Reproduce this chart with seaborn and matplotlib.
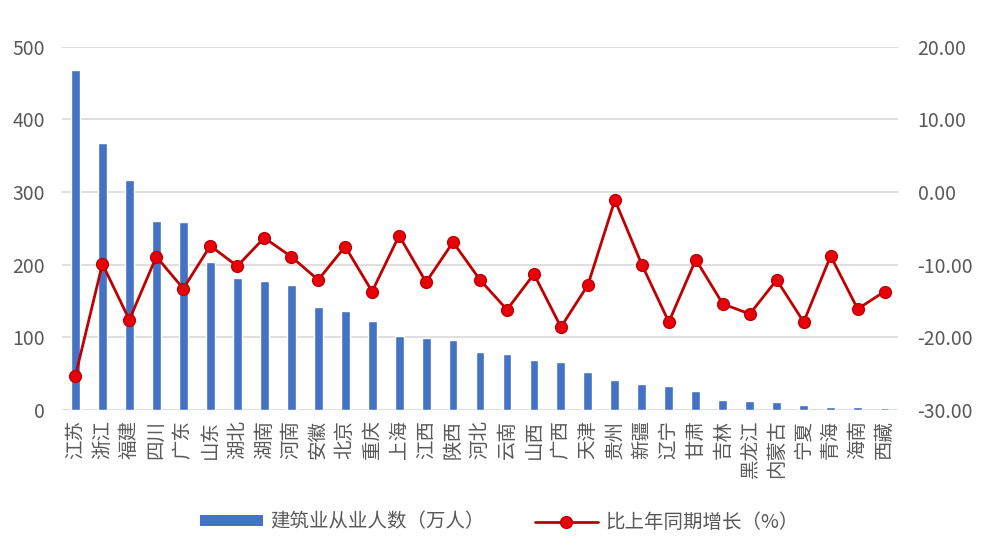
import matplotlib
matplotlib.use("Agg")
import matplotlib.pyplot as plt
import seaborn as sns
from matplotlib.patches import Patch
from matplotlib.lines import Line2D
from matplotlib.ticker import FormatStrFormatter

# Data
provinces = ["江苏", "浙江", "福建", "四川", "广东", "山东", "湖北", "湖南", "河南", "安徽",
             "北京", "重庆", "上海", "江西", "陕西", "河北", "云南", "山西", "广西", "天津",
             "贵州", "新疆", "辽宁", "甘肃", "吉林", "黑龙江", "内蒙古", "宁夏", "青海", "海南", "西藏"]
workers = [468, 368, 317, 260, 259, 204, 182, 178, 172, 142,
           136, 123, 102, 99, 96, 80, 77, 68, 66, 52,
           41, 36, 33, 26, 14, 12, 11, 7, 4, 4, 3]
growth = [-25.3, -9.9, -17.6, -8.9, -13.3, -7.4, -10.2, -6.3, -8.9, -12.1,
          -7.5, -13.7, -6.0, -12.4, -6.9, -12.1, -16.2, -11.3, -18.6, -12.8,
          -1.1, -10.0, -17.9, -9.3, -15.4, -16.8, -12.1, -17.9, -8.8, -16.1, -13.7]

bar_label = "建筑业从业人数（万人）"
line_label = "比上年同期增长（%）"

bar_color = "#4472C4"
line_color = "#C00000"
marker_color = "#E8000B"
text_color = "#595959"

sns.set_theme(style="white")
plt.rcParams["font.family"] = ["Noto Sans CJK SC", "DejaVu Sans"]

fig = plt.figure(figsize=(9.99, 5.45), dpi=100)
ax = fig.add_axes([0.062, 0.248, 0.837, 0.666])

sns.barplot(x=provinces, y=workers, color=bar_color, width=0.33, saturation=1, ax=ax, zorder=2)
ax.set_ylim(0, 500)
ax.set_yticks(range(0, 501, 100))
ax.yaxis.grid(True, color="#D9D9D9", linewidth=1.2, zorder=0)
ax.set_axisbelow(True)

ax2 = ax.twinx()
sns.pointplot(x=provinces, y=growth, color=line_color, markers="o", ax=ax2,
              linewidth=2, markersize=8.5, markerfacecolor=marker_color,
              markeredgecolor=line_color, markeredgewidth=1)
ax2.set_ylim(-30, 20)
ax2.set_yticks(range(-30, 21, 10))
ax2.yaxis.set_major_formatter(FormatStrFormatter("%.2f"))

ax.set_xlim(-0.5, len(provinces) - 0.5)
ax.set_xticks(range(len(provinces)))
ax.set_xticklabels(provinces, rotation=90)

for a in (ax, ax2):
    for s in a.spines.values():
        s.set_visible(False)
    a.set_xlabel("")
    a.set_ylabel("")
    a.tick_params(axis="both", length=0, labelsize=14, colors=text_color)
ax.tick_params(axis="y", pad=12)
ax2.tick_params(axis="y", pad=14)
ax.tick_params(axis="x", pad=7)

handles = [Patch(facecolor=bar_color, edgecolor="none"),
           Line2D([], [], color=line_color, linewidth=2, marker="o", markersize=8.5,
                  markerfacecolor=marker_color, markeredgecolor=line_color, markeredgewidth=1)]
leg = fig.legend(handles, [bar_label, line_label], loc="center", ncol=2,
                 bbox_to_anchor=(0.5, 0.042), frameon=False, fontsize=14,
                 handlelength=3.2, handleheight=0.45, columnspacing=2.6, handletextpad=0.4)
for t in leg.get_texts():
    t.set_color(text_color)

fig.savefig("out.png", dpi=100)
